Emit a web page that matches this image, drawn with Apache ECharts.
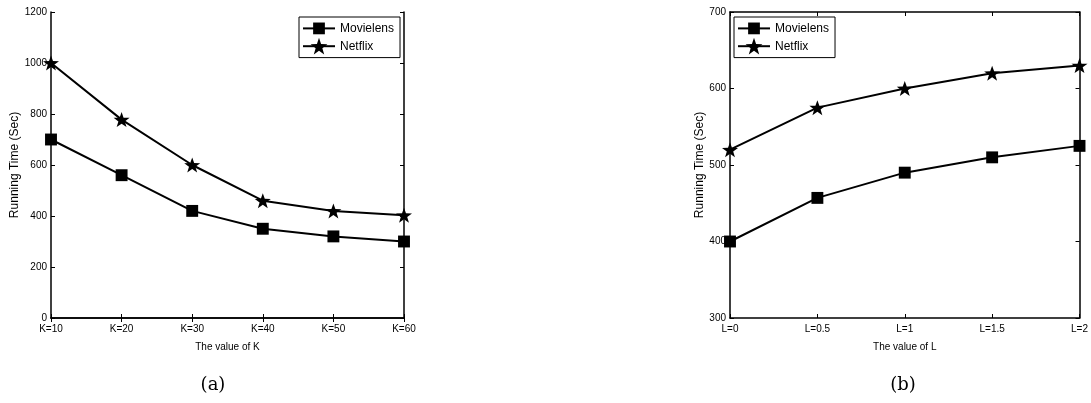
<!DOCTYPE html>
<html><head><meta charset="utf-8">
<script src="https://cdn.jsdelivr.net/npm/echarts@6/dist/echarts.min.js"></script>
<style>html,body{margin:0;padding:0;background:#fff}#c{width:1091px;height:403px}</style>
</head><body><div id="c"></div>
<script>
const kCats = ['K=10','K=20','K=30','K=40','K=50','K=60'];
const movielensK = [700,560,420,350,320,300];
const netflixK = [1000,778,600,460,420,403];
const lCats = ['L=0','L=0.5','L=1','L=1.5','L=2'];
const movielensL = [400,457,490,510,525];
const netflixL = [520,575,600,620,630];

const FONT = 'Liberation Sans';
const STAR = 'path://M50,0L61.76,33.82L97.55,34.55L69.02,56.18L79.39,90.45L50,70L20.61,90.45L30.98,56.18L2.45,34.55L38.24,33.82Z';
const RECT = 'path://M0,0M100,100M15,15L85,15L85,85L15,85Z';
const axLine = {lineStyle:{color:'#000',width:1.5}};
const tick = {inside:true,length:4,lineStyle:{color:'#000',width:1}};
function xAx(grid, cats, pos, name){
  return {type:'category',gridIndex:grid,data:cats,boundaryGap:false,position:pos,
    axisLine:axLine,axisTick:Object.assign({alignWithLabel:true},tick),
    axisLabel:{show:pos==='bottom',color:'#000',fontFamily:FONT,fontSize:10,margin:6},
    name:pos==='bottom'?name:'',nameLocation:'middle',nameGap:24,
    nameTextStyle:{color:'#000',fontFamily:FONT,fontSize:10},splitLine:{show:false}};
}
function yAx(grid, min, max, iv, pos, gap){
  return {type:'value',gridIndex:grid,min:min,max:max,interval:iv,position:pos,
    axisLine:Object.assign({show:true},axLine),axisTick:Object.assign({show:true},tick),
    axisLabel:{show:pos==='left',color:'#000',fontFamily:FONT,fontSize:10,margin:4,formatter:v=>String(v)},
    name:pos==='left'?'Running Time (Sec)':'',nameLocation:'middle',nameGap:gap||0,
    nameTextStyle:{color:'#000',fontFamily:FONT,fontSize:12},splitLine:{show:false}};
}
function ser(name, data, xi, yi, sym, size){
  return {type:'line',name:name,data:data,xAxisIndex:xi,yAxisIndex:yi,symbol:sym,symbolSize:size,
    showAllSymbol:true,lineStyle:{color:'#000',width:2},itemStyle:{color:'#000'},
    emphasis:{disabled:true},animation:false,z:3};
}
function leg(left){
  return {orient:'vertical',left:left,top:17,data:['Movielens','Netflix'],
    borderColor:'#000',borderWidth:1,padding:[3,6,3,3],itemGap:1,itemWidth:32,itemHeight:21,
    textStyle:{color:'#000',fontFamily:FONT,fontSize:12},selectedMode:false,backgroundColor:'#fff'};
}
const chart = echarts.init(document.getElementById('c'));
chart.setOption({
  animation:false,
  grid:[{left:51,right:687,top:12,bottom:85},{left:730,right:9,top:12,bottom:85}],
  xAxis:[xAx(0,kCats,'bottom','The value of K'),xAx(0,kCats,'top',''),xAx(1,lCats,'bottom','The value of L'),xAx(1,lCats,'top','')],
  yAxis:[yAx(0,0,1200,200,'left',24),yAx(0,0,1200,200,'right'),yAx(1,300,700,100,'left',20),yAx(1,300,700,100,'right')],
  legend:[leg(299),leg(734)],
  title:[
    {text:'(a)',left:208,top:371,textAlign:'center',textStyle:{fontFamily:'DejaVu Serif',fontWeight:'normal',fontSize:18,color:'#000'}},
    {text:'(b)',left:898,top:371,textAlign:'center',textStyle:{fontFamily:'DejaVu Serif',fontWeight:'normal',fontSize:18,color:'#000'}}
  ],
  series:[
    ser('Movielens',movielensK,0,0,RECT,17),
    ser('Netflix',netflixK,0,0,STAR,[16,15]),
    ser('Movielens',movielensL,2,2,RECT,17),
    ser('Netflix',netflixL,2,2,STAR,[16,15])
  ]
});
</script></body></html>
